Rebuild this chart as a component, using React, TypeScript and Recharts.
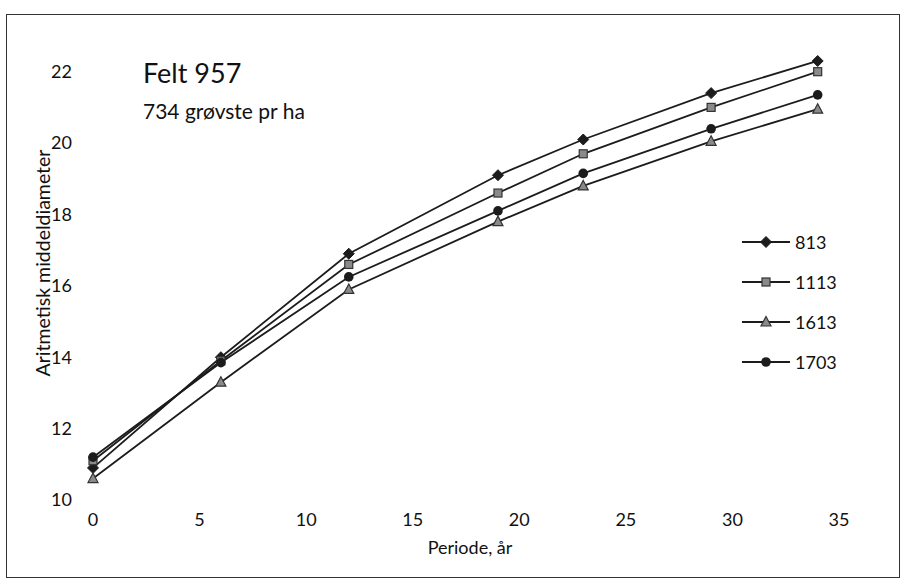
import { Legend, Line, LineChart, XAxis, YAxis } from "recharts";

const periods = [0, 6, 12, 19, 23, 29, 34];
const s813 = [10.9, 14.0, 16.9, 19.1, 20.1, 21.4, 22.3];
const s1113 = [11.1, 13.9, 16.6, 18.6, 19.7, 21.0, 22.0];
const s1613 = [10.6, 13.3, 15.9, 17.8, 18.8, 20.05, 20.95];
const s1703 = [11.2, 13.85, 16.25, 18.1, 19.15, 20.4, 21.35];

const xTicks = [0, 5, 10, 15, 20, 25, 30, 35];
const yTicks = [10, 12, 14, 16, 18, 20, 22];

const FONT = "Lato, 'Open Sans', sans-serif";
const INK = "#1c1c1c";

const chartData = periods.map((p, i) => ({
  periode: p,
  s813: s813[i],
  s1113: s1113[i],
  s1613: s1613[i],
  s1703: s1703[i],
}));

type Shape = "diamond" | "square" | "triangle" | "circle";

const Marker = ({ cx, cy, shape }: { cx: number; cy: number; shape: Shape }) => {
  if (shape === "diamond") {
    const r = 5.5;
    return (
      <polygon
        points={`${cx},${cy - r} ${cx + r},${cy} ${cx},${cy + r} ${cx - r},${cy}`}
        fill={INK}
        stroke={INK}
      />
    );
  }
  if (shape === "square") {
    return (
      <rect x={cx - 4} y={cy - 4} width={8} height={8} fill="#8a8a8a" stroke="#333" strokeWidth={1.2} />
    );
  }
  if (shape === "triangle") {
    return (
      <polygon
        points={`${cx},${cy - 5.5} ${cx + 5},${cy + 4} ${cx - 5},${cy + 4}`}
        fill="#8a8a8a"
        stroke="#333"
        strokeWidth={1.2}
      />
    );
  }
  return <circle cx={cx} cy={cy} r={4.8} fill={INK} />;
};

const series: { key: string; name: string; shape: Shape }[] = [
  { key: "s813", name: "813", shape: "diamond" },
  { key: "s1113", name: "1113", shape: "square" },
  { key: "s1613", name: "1613", shape: "triangle" },
  { key: "s1703", name: "1703", shape: "circle" },
];

const LegendContent = () => (
  <div style={{ fontFamily: FONT, fontSize: 18, color: "#111" }}>
    {series.map((s) => (
      <div key={s.key} style={{ display: "flex", alignItems: "center", height: 40 }}>
        <svg width={52} height={16}>
          <line x1={2} y1={8} x2={50} y2={8} stroke={INK} strokeWidth={1.8} />
          <Marker cx={26} cy={8} shape={s.shape} />
        </svg>
        <span style={{ marginLeft: 3 }}>{s.name}</span>
      </div>
    ))}
  </div>
);

export default function App() {
  return (
    <div style={{ position: "absolute", left: 0, top: 0, width: 905, height: 584, background: "#fff" }}>
      <div
        style={{
          position: "absolute",
          left: 6,
          top: 14,
          width: 892,
          height: 562,
          border: "1.5px solid #333",
        }}
      />
      <LineChart
        width={905}
        height={584}
        data={chartData}
        margin={{ top: 36, right: 66, bottom: 54, left: 43 }}
        style={{ position: "absolute", left: 0, top: 0 }}
      >
        <XAxis
          dataKey="periode"
          type="number"
          domain={[0, 35]}
          ticks={xTicks}
          axisLine={false}
          tickLine={false}
          tickMargin={7}
          height={30}
          tick={{ fill: "#111", fontSize: 18, fontFamily: FONT }}
        />
        <YAxis
          type="number"
          domain={[10, 23]}
          ticks={yTicks}
          allowDataOverflow
          axisLine={false}
          tickLine={false}
          tickMargin={15}
          width={50}
          tick={{ fill: "#111", fontSize: 18, fontFamily: FONT }}
        />
        <Legend
          layout="vertical"
          align="center"
          verticalAlign="middle"
          content={<LegendContent />}
          wrapperStyle={{ left: 740, top: 222, width: 110 }}
        />
        {series.map((s) => (
          <Line
            key={s.key}
            dataKey={s.key}
            name={s.name}
            stroke={INK}
            strokeWidth={1.8}
            isAnimationActive={false}
            dot={(props: any) => <Marker key={`${s.key}-${props.index}`} cx={props.cx} cy={props.cy} shape={s.shape} />}
            activeDot={false}
          />
        ))}
      </LineChart>
      <div style={{ position: "absolute", left: 143, top: 56, fontFamily: FONT, fontSize: 27, color: "#111" }}>
        Felt 957
      </div>
      <div style={{ position: "absolute", left: 143, top: 98, fontFamily: FONT, fontSize: 21, color: "#111" }}>
        734 grøvste pr ha
      </div>
      <div
        style={{
          position: "absolute",
          left: 470,
          top: 547,
          transform: "translate(-50%, -50%)",
          fontFamily: FONT,
          fontSize: 18,
          color: "#111",
          whiteSpace: "nowrap",
        }}
      >
        Periode, år
      </div>
      <div
        style={{
          position: "absolute",
          left: 42,
          top: 263,
          transform: "translate(-50%, -50%) rotate(-90deg)",
          fontFamily: FONT,
          fontSize: 19.5,
          color: "#111",
          whiteSpace: "nowrap",
        }}
      >
        Aritmetisk middeldiameter
      </div>
    </div>
  );
}
